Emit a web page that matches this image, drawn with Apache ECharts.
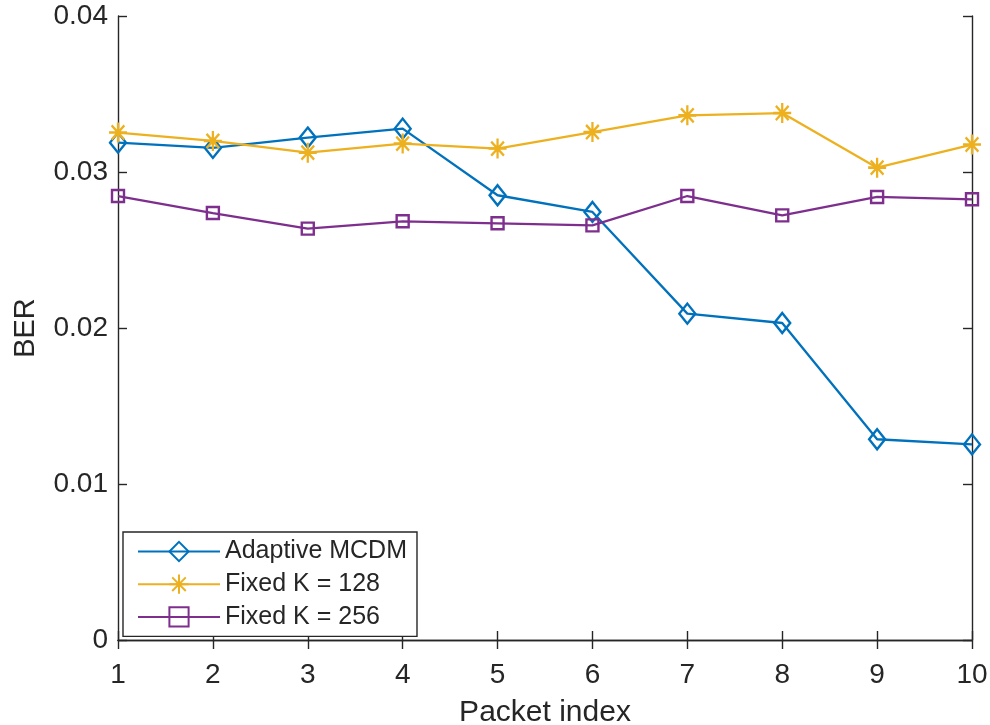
<!DOCTYPE html>
<html>
<head>
<meta charset="utf-8">
<script src="https://cdn.jsdelivr.net/npm/echarts@6/dist/echarts.min.js"></script>
<style>html,body{margin:0;padding:0;background:#fff}#c{width:990px;height:725px}</style>
</head>
<body>
<div id="c"></div>
<script>
const packetIndex = [1, 2, 3, 4, 5, 6, 7, 8, 9, 10];
const adaptiveMCDM = [0.03188, 0.03154, 0.03221, 0.03278, 0.02851, 0.02744, 0.02092, 0.02032, 0.01287, 0.01254];
const fixedK128 = [0.03253, 0.03199, 0.03124, 0.03182, 0.03150, 0.03256, 0.03363, 0.03378, 0.03028, 0.03176];
const fixedK256 = [0.02846, 0.02737, 0.02637, 0.02684, 0.02671, 0.02658, 0.02846, 0.02722, 0.02840, 0.02825];
const seriesNames = ['Adaptive MCDM', 'Fixed K = 128', 'Fixed K = 256'];
const xTicks = { min: 1, max: 10, interval: 1 };
const yTicks = { min: 0, max: 0.04, interval: 0.01 };

const FONT = '"Liberation Sans", Arial, Helvetica, sans-serif';
const INK = '#262626';
const pairs = arr => packetIndex.map((x, i) => [x, arr[i]]);
const starPath = 'path://M0,-10L0,10M-10,0L10,0M-7.07,-7.07L7.07,7.07M-7.07,7.07L7.07,-7.07';

function mkSeries(name, data, color, symbol, size) {
  return {
    name: name, type: 'line', data: pairs(data),
    symbol: symbol, symbolSize: size, showAllSymbol: true,
    lineStyle: { color: color, width: 2.3 },
    itemStyle: { color: 'none', borderColor: color, borderWidth: 2.4 },
    emphasis: { disabled: true },
    animation: false
  };
}

const axisCommon = {
  axisLine: { show: true, lineStyle: { color: INK, width: 1.4 } },
  axisTick: { show: true, inside: true, length: 9, lineStyle: { color: INK, width: 1.4 } },
  splitLine: { show: false }
};

const chart = echarts.init(document.getElementById('c'));
chart.setOption({
  backgroundColor: '#fff',
  animation: false,
  grid: { left: 118, right: 18, top: 16, bottom: 85, containLabel: false, outerBoundsMode: 'none' },
  xAxis: [
    Object.assign({
      type: 'value', min: xTicks.min, max: xTicks.max, interval: xTicks.interval,
      name: 'Packet index', nameLocation: 'middle', nameGap: 58,
      nameTextStyle: { fontFamily: FONT, fontSize: 30, color: INK },
      axisLabel: { fontFamily: FONT, fontSize: 28, color: INK, margin: 21 }
    }, axisCommon),
    Object.assign({
      type: 'value', position: 'top', min: xTicks.min, max: xTicks.max, interval: xTicks.interval,
      axisLabel: { show: false }
    }, axisCommon)
  ],
  yAxis: [
    Object.assign({
      type: 'value', min: yTicks.min, max: yTicks.max, interval: yTicks.interval,
      name: 'BER', nameLocation: 'middle', nameGap: 78,
      nameTextStyle: { fontFamily: FONT, fontSize: 29, color: INK },
      axisLabel: { fontFamily: FONT, fontSize: 28, color: INK, margin: 10, padding: [4, 0, 0, 0] }
    }, axisCommon),
    Object.assign({
      type: 'value', position: 'right', min: yTicks.min, max: yTicks.max, interval: yTicks.interval,
      axisLabel: { show: false }
    }, axisCommon)
  ],
  legend: {
    orient: 'vertical', left: 123, top: 532,
    data: seriesNames,
    itemWidth: 82, itemHeight: 24, itemGap: 7.7,
    padding: [7, 10, 7, 14],
    borderColor: INK, borderWidth: 1.4, backgroundColor: '#fff',
    textStyle: { fontFamily: FONT, fontSize: 25, color: INK, lineHeight: 24 },
    selectedMode: false
  },
  series: [
    mkSeries(seriesNames[0], adaptiveMCDM, '#0072BD', 'diamond', [16, 20]),
    mkSeries(seriesNames[1], fixedK128, '#EDB120', starPath, [18, 20]),
    mkSeries(seriesNames[2], fixedK256, '#7E2F8E', 'rect', [12, 12])
  ]
});
</script>
</body>
</html>
